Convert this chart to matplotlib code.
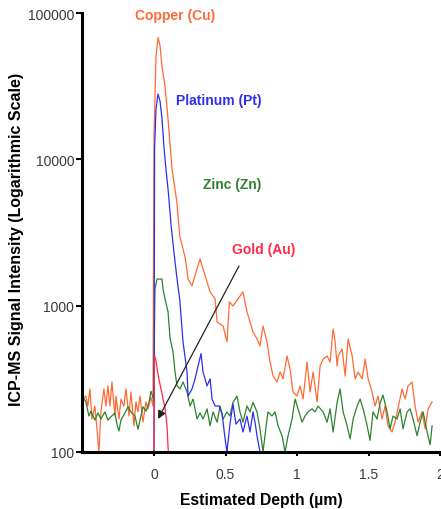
import matplotlib
matplotlib.use("Agg")
import matplotlib.pyplot as plt
from matplotlib.ticker import FixedLocator, FixedFormatter, NullLocator

plt.rcParams['font.family'] = ['Liberation Sans', 'DejaVu Sans']

# ---------------- data ----------------
cu_depth = [-0.497, -0.476, -0.462, -0.448, -0.434, -0.413, -0.399, -0.385, -0.371, -0.350,
            -0.336, -0.322, -0.308, -0.294, -0.273, -0.266, -0.245, -0.231, -0.210, -0.196,
            -0.175, -0.161, -0.140, -0.126, -0.112, -0.098, -0.077, -0.056, -0.042, -0.021,
            -0.007, 0.000, 0.014, 0.028, 0.042, 0.056, 0.077, 0.098, 0.126, 0.160,
            0.180, 0.220, 0.238, 0.266, 0.300, 0.322, 0.343, 0.371, 0.392, 0.427,
            0.441, 0.483, 0.510, 0.527, 0.552, 0.587, 0.622, 0.650, 0.671, 0.692,
            0.720, 0.741, 0.762, 0.790, 0.811, 0.832, 0.860, 0.881, 0.902, 0.930,
            0.951, 0.972, 1.000, 1.021, 1.042, 1.070, 1.091, 1.112, 1.140, 1.161,
            1.182, 1.210, 1.231, 1.252, 1.266, 1.280, 1.287, 1.315, 1.336, 1.357,
            1.385, 1.406, 1.427, 1.455, 1.476, 1.497, 1.524, 1.545, 1.566, 1.594,
            1.615, 1.636, 1.664, 1.685, 1.706, 1.734, 1.755, 1.776, 1.804, 1.825,
            1.846, 1.874, 1.895, 1.916, 1.944]
cu_signal = [230, 241, 206, 270, 168, 206, 144, 100, 188, 270,
             206, 283, 206, 301, 176, 241, 168, 230, 206, 270,
             176, 257, 151, 220, 188, 241, 160, 220, 197, 237,
             206, 14500, 50000, 68000, 60000, 43000, 31700, 18900, 8600, 5100,
             3000, 2085, 1520, 1365, 1783, 2085, 1783, 1450, 1242, 1112,
             774, 726, 565, 1060, 995, 1112, 1242, 906, 774, 661,
             592, 531, 726, 565, 412, 331, 301, 352, 316, 453,
             369, 257, 241, 283, 230, 412, 257, 352, 220, 387,
             432, 453, 412, 693, 565, 387, 453, 506, 331, 592,
             453, 316, 352, 316, 432, 316, 257, 206, 241, 168,
             206, 151, 137, 160, 200, 270, 230, 283, 301, 206,
             160, 188, 144, 197, 220]

zn_depth = [-0.497, -0.476, -0.455, -0.441, -0.413, -0.392, -0.371, -0.343, -0.322, -0.301,
            -0.273, -0.259, -0.245, -0.231, -0.203, -0.182, -0.161, -0.133, -0.112, -0.098,
            -0.077, -0.056, -0.035, -0.021, -0.003, 0.007, 0.021, 0.056, 0.063, 0.077,
            0.098, 0.112, 0.133, 0.147, 0.161, 0.182, 0.203, 0.231, 0.252, 0.273,
            0.301, 0.322, 0.343, 0.371, 0.392, 0.413, 0.441, 0.462, 0.483, 0.510,
            0.531, 0.552, 0.580, 0.601, 0.622, 0.650, 0.671, 0.692, 0.720, 0.741,
            0.762, 0.790, 0.797, 0.825, 0.846, 0.867, 0.895, 0.916, 0.937, 0.965,
            0.986, 1.007, 1.035, 1.056, 1.077, 1.105, 1.126, 1.147, 1.182, 1.210,
            1.231, 1.252, 1.280, 1.301, 1.322, 1.350, 1.371, 1.392, 1.420, 1.441,
            1.462, 1.490, 1.510, 1.531, 1.559, 1.580, 1.601, 1.629, 1.650, 1.671,
            1.699, 1.720, 1.741, 1.769, 1.790, 1.811, 1.839, 1.860, 1.881, 1.909,
            1.930, 1.944]
zn_signal = [238, 220, 176, 190, 165, 185, 168, 188, 165, 174,
             185, 155, 139, 165, 185, 204, 188, 176, 143, 165,
             204, 190, 218, 260, 230, 1300, 1520, 1520, 1300, 1112,
             910, 600, 483, 352, 283, 270, 301, 257, 206, 230,
             168, 185, 168, 197, 151, 188, 160, 206, 168, 188,
             176, 218, 241, 188, 160, 206, 188, 218, 188, 144,
             100, 168, 188, 176, 188, 151, 129, 100, 129, 168,
             230, 197, 160, 176, 188, 197, 188, 206, 188, 160,
             197, 137, 218, 270, 188, 151, 123, 168, 206, 230,
             197, 151, 120, 188, 168, 215, 245, 188, 144, 176,
             168, 197, 144, 188, 197, 168, 129, 160, 188, 137,
             112, 151]

pt_depth = [0.000, 0.004, 0.014, 0.028, 0.042, 0.056, 0.070, 0.084, 0.100, 0.120,
            0.140, 0.160, 0.180, 0.203, 0.231, 0.238, 0.266, 0.287, 0.308, 0.329,
            0.343, 0.371, 0.392, 0.406, 0.427, 0.455, 0.476, 0.497, 0.510, 0.531,
            0.552, 0.573, 0.601, 0.622, 0.650, 0.671, 0.692, 0.706, 0.720, 0.741]
pt_signal = [100, 12000, 22000, 28000, 25000, 19000, 12000, 8500, 6000, 3500,
             2300, 1550, 1100, 565, 352, 241, 270, 316, 387, 470,
             352, 283, 316, 230, 206, 206, 182, 123, 100, 155,
             213, 155, 168, 137, 176, 137, 188, 160, 129, 100]

au_depth = [0.000, 0.003, 0.014, 0.028, 0.042, 0.056, 0.063, 0.077, 0.091, 0.100]
au_signal = [100, 460, 420, 340, 290, 250, 230, 200, 150, 100]

x_ticks = [0, 0.5, 1, 1.5, 2]
x_tick_labels = ["0", "0.5", "1", "1.5", "2"]
y_ticks = [100, 1000, 10000, 100000]
y_tick_labels = ["100", "1000", "10000", "100000"]

# ---------------- styling ----------------
c_cu = "#FF6A35"
c_pt = "#2E2EF0"
c_zn = "#2E822E"
c_au = "#FF2A45"

fig = plt.figure(figsize=(4.41, 5.10), dpi=100)
ax = fig.add_axes([0.187, 0.1118, 0.811, 0.8607])

ax.plot(cu_depth, cu_signal, color=c_cu, lw=0.9)
ax.plot(zn_depth, zn_signal, color=c_zn, lw=0.9)
ax.plot(pt_depth, pt_signal, color=c_pt, lw=0.9)
ax.plot(au_depth, au_signal, color=c_au, lw=0.9)

ax.set_yscale('log')
ax.set_xlim(-0.5, 2.0)
ax.set_ylim(100, 100000)

ax.yaxis.set_major_locator(FixedLocator(y_ticks))
ax.yaxis.set_major_formatter(FixedFormatter(y_tick_labels))
ax.yaxis.set_minor_locator(NullLocator())
ax.xaxis.set_major_locator(FixedLocator(x_ticks))
ax.xaxis.set_major_formatter(FixedFormatter(x_tick_labels))

for s in ['top', 'right']:
    ax.spines[s].set_visible(False)
for s in ['left', 'bottom']:
    ax.spines[s].set_linewidth(2.2)
    ax.spines[s].set_color('black')

ax.tick_params(axis='y', which='major', direction='out', length=4.5, width=1.5,
               labelsize=10, labelcolor='#3a3a3a', pad=1.5)
ax.tick_params(axis='x', which='major', direction='out', length=3, width=1.5,
               labelsize=10, labelcolor='#3a3a3a', pad=8)

ax.set_xlabel("Estimated Depth (\u00b5m)", fontsize=11.3, fontweight='bold', labelpad=8)
ax.set_ylabel("ICP-MS Signal Intensity (Logarithmic Scale)", fontsize=11.5,
              fontweight='bold')
ax.yaxis.set_label_coords(-0.163, 0.487)

ax.text(-0.133, 97000, "Copper (Cu)", color=c_cu, fontsize=10, fontweight='bold', va='center')
ax.text(0.154, 25500, "Platinum (Pt)", color=c_pt, fontsize=10, fontweight='bold', va='center')
ax.text(0.343, 6800, "Zinc (Zn)", color=c_zn, fontsize=10, fontweight='bold', va='center')
ax.text(0.545, 2440, "Gold (Au)", color=c_au, fontsize=10, fontweight='bold', va='center')

ax.annotate("", xy=(0.028, 168), xytext=(0.594, 1866),
            arrowprops=dict(arrowstyle='-|>', color='#222222', lw=0.9,
                            mutation_scale=12, shrinkA=0, shrinkB=0))

fig.savefig("out.png", dpi=100)
